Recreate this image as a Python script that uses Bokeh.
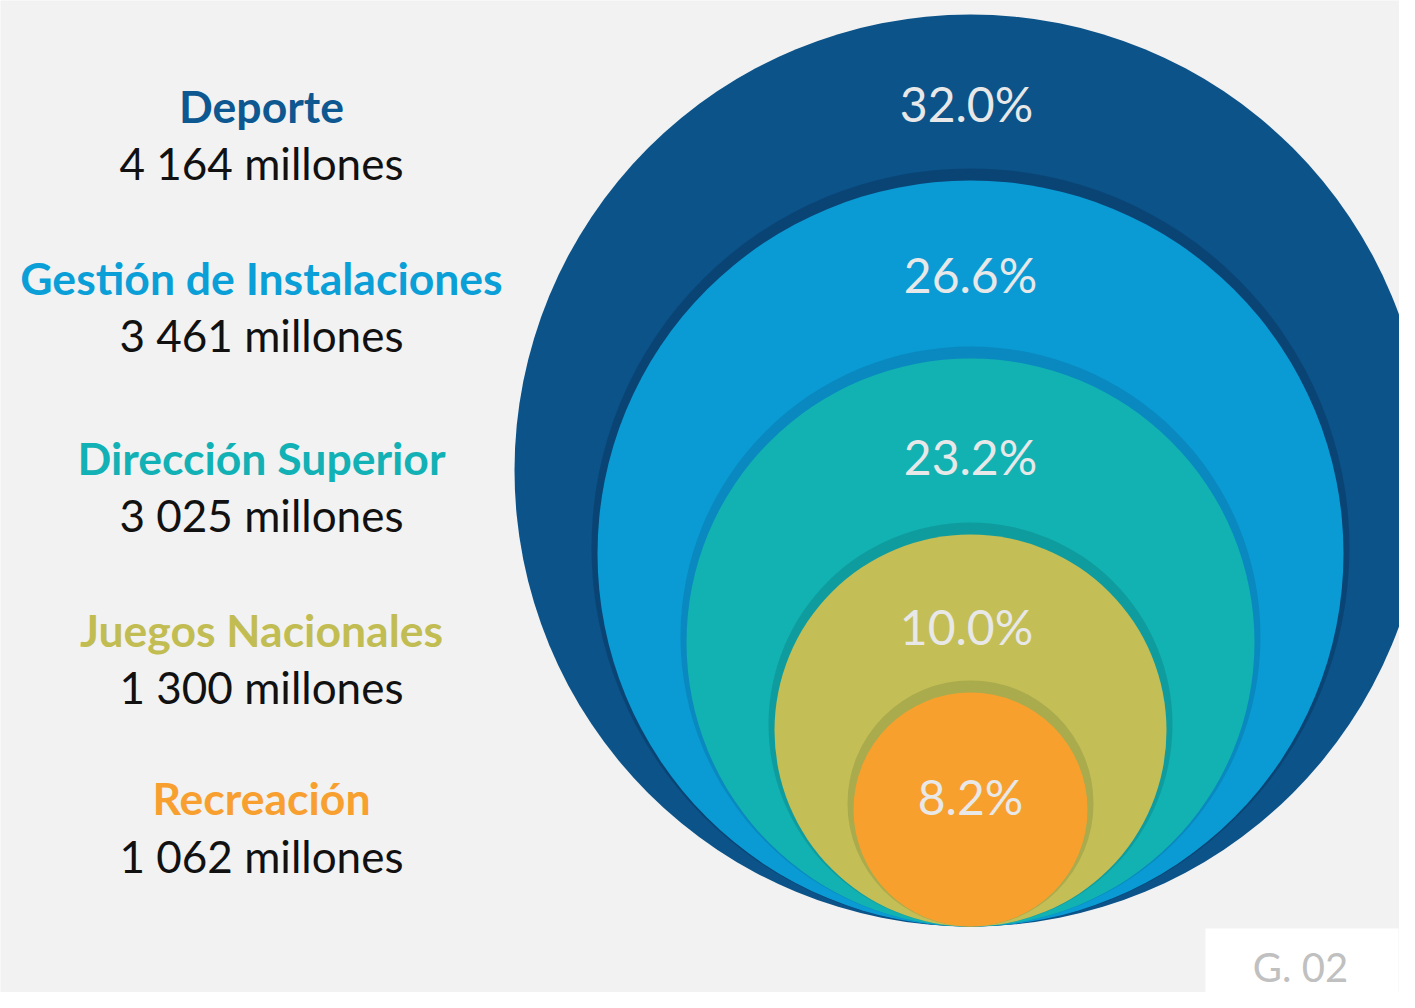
from bokeh.plotting import figure
from bokeh.models import Range1d, ColumnDataSource
from bokeh.core.properties import value
from bokeh.embed import file_html
from bokeh.resources import INLINE

# ---- data ----
categories = ["Deporte", "Gestión de Instalaciones", "Dirección Superior",
              "Juegos Nacionales", "Recreación"]
amounts = [4164, 3461, 3025, 1300, 1062]          # millones
shares = [32.0, 26.6, 23.2, 10.0, 8.2]             # %
chart_tag = "G. 02"

# ---- styles / layout ----
fills = ["#0b5389", "#0a9bd5", "#12b2b3", "#c3be55", "#f8a02d"]
shadows = [None, "#0a3f6c", "#0982b5", "#0e9395", "#9fa34a"]
title_colors = ["#0e5891", "#0b9fd8", "#12b1b5", "#c2bd52", "#f7a030"]
radii = [456, 373, 284, 196, 117]
cx = 970
bottom = 926
pct_x = [966, 970, 970, 966, 970]
pct_y = [103, 274, 456, 626, 796]
label_x = 261
title_y = [105, 277, 457, 629, 797]
amount_y = [162, 334, 514, 686, 855]

FONT = "Lato"

def fmt_amount(v):
    return f"{v:,}".replace(",", " ") + " millones"

W, H = 1399, 992
p = figure(width=W, height=H, output_backend="svg", toolbar_location=None,
           x_range=Range1d(0, W), y_range=Range1d(H, 0),
           min_border=0, border_fill_color="#f2f2f2",
           background_fill_color="#f2f2f2", outline_line_color=None)
p.axis.visible = False
p.grid.visible = False

for i, (r, c) in enumerate(zip(radii, fills)):
    cy = bottom - r
    if shadows[i] is not None:
        p.circle(x=[cx], y=[cy - 6], radius=r + 6, fill_color=shadows[i],
                 fill_alpha=0.7, line_color=None)
    p.circle(x=[cx], y=[cy], radius=r, fill_color=c, line_color=None)

src_pct = ColumnDataSource(dict(x=pct_x, y=pct_y,
                                t=[f"{s:.1f}%" for s in shares]))
p.text(x="x", y="y", text="t", source=src_pct, text_font=value(FONT),
       text_font_size="48px", text_color="#e8e8e8", text_align="center",
       text_baseline="middle")

src_t = ColumnDataSource(dict(x=[label_x] * 5, y=title_y, t=categories,
                              c=title_colors))
p.text(x="x", y="y", text="t", source=src_t, text_font=value(FONT),
       text_font_style="bold", text_font_size="44.5px", text_color="c",
       text_align="center", text_baseline="middle")

src_a = ColumnDataSource(dict(x=[label_x] * 5, y=amount_y,
                              t=[fmt_amount(a) for a in amounts]))
p.text(x="x", y="y", text="t", source=src_a, text_font=value(FONT),
       text_font_size="44px", text_color="#111111", text_align="center",
       text_baseline="middle")

# tag box
p.quad(left=[1205], right=[1398], top=[928], bottom=[1010],
       fill_color="#ffffff", line_color=None)
p.text(x=[1300], y=[966], text=[chart_tag], text_font=value(FONT),
       text_font_size="40px", text_color="#c0c0c0", text_align="center",
       text_baseline="middle")

open("out.html", "w").write(file_html(p, INLINE))
